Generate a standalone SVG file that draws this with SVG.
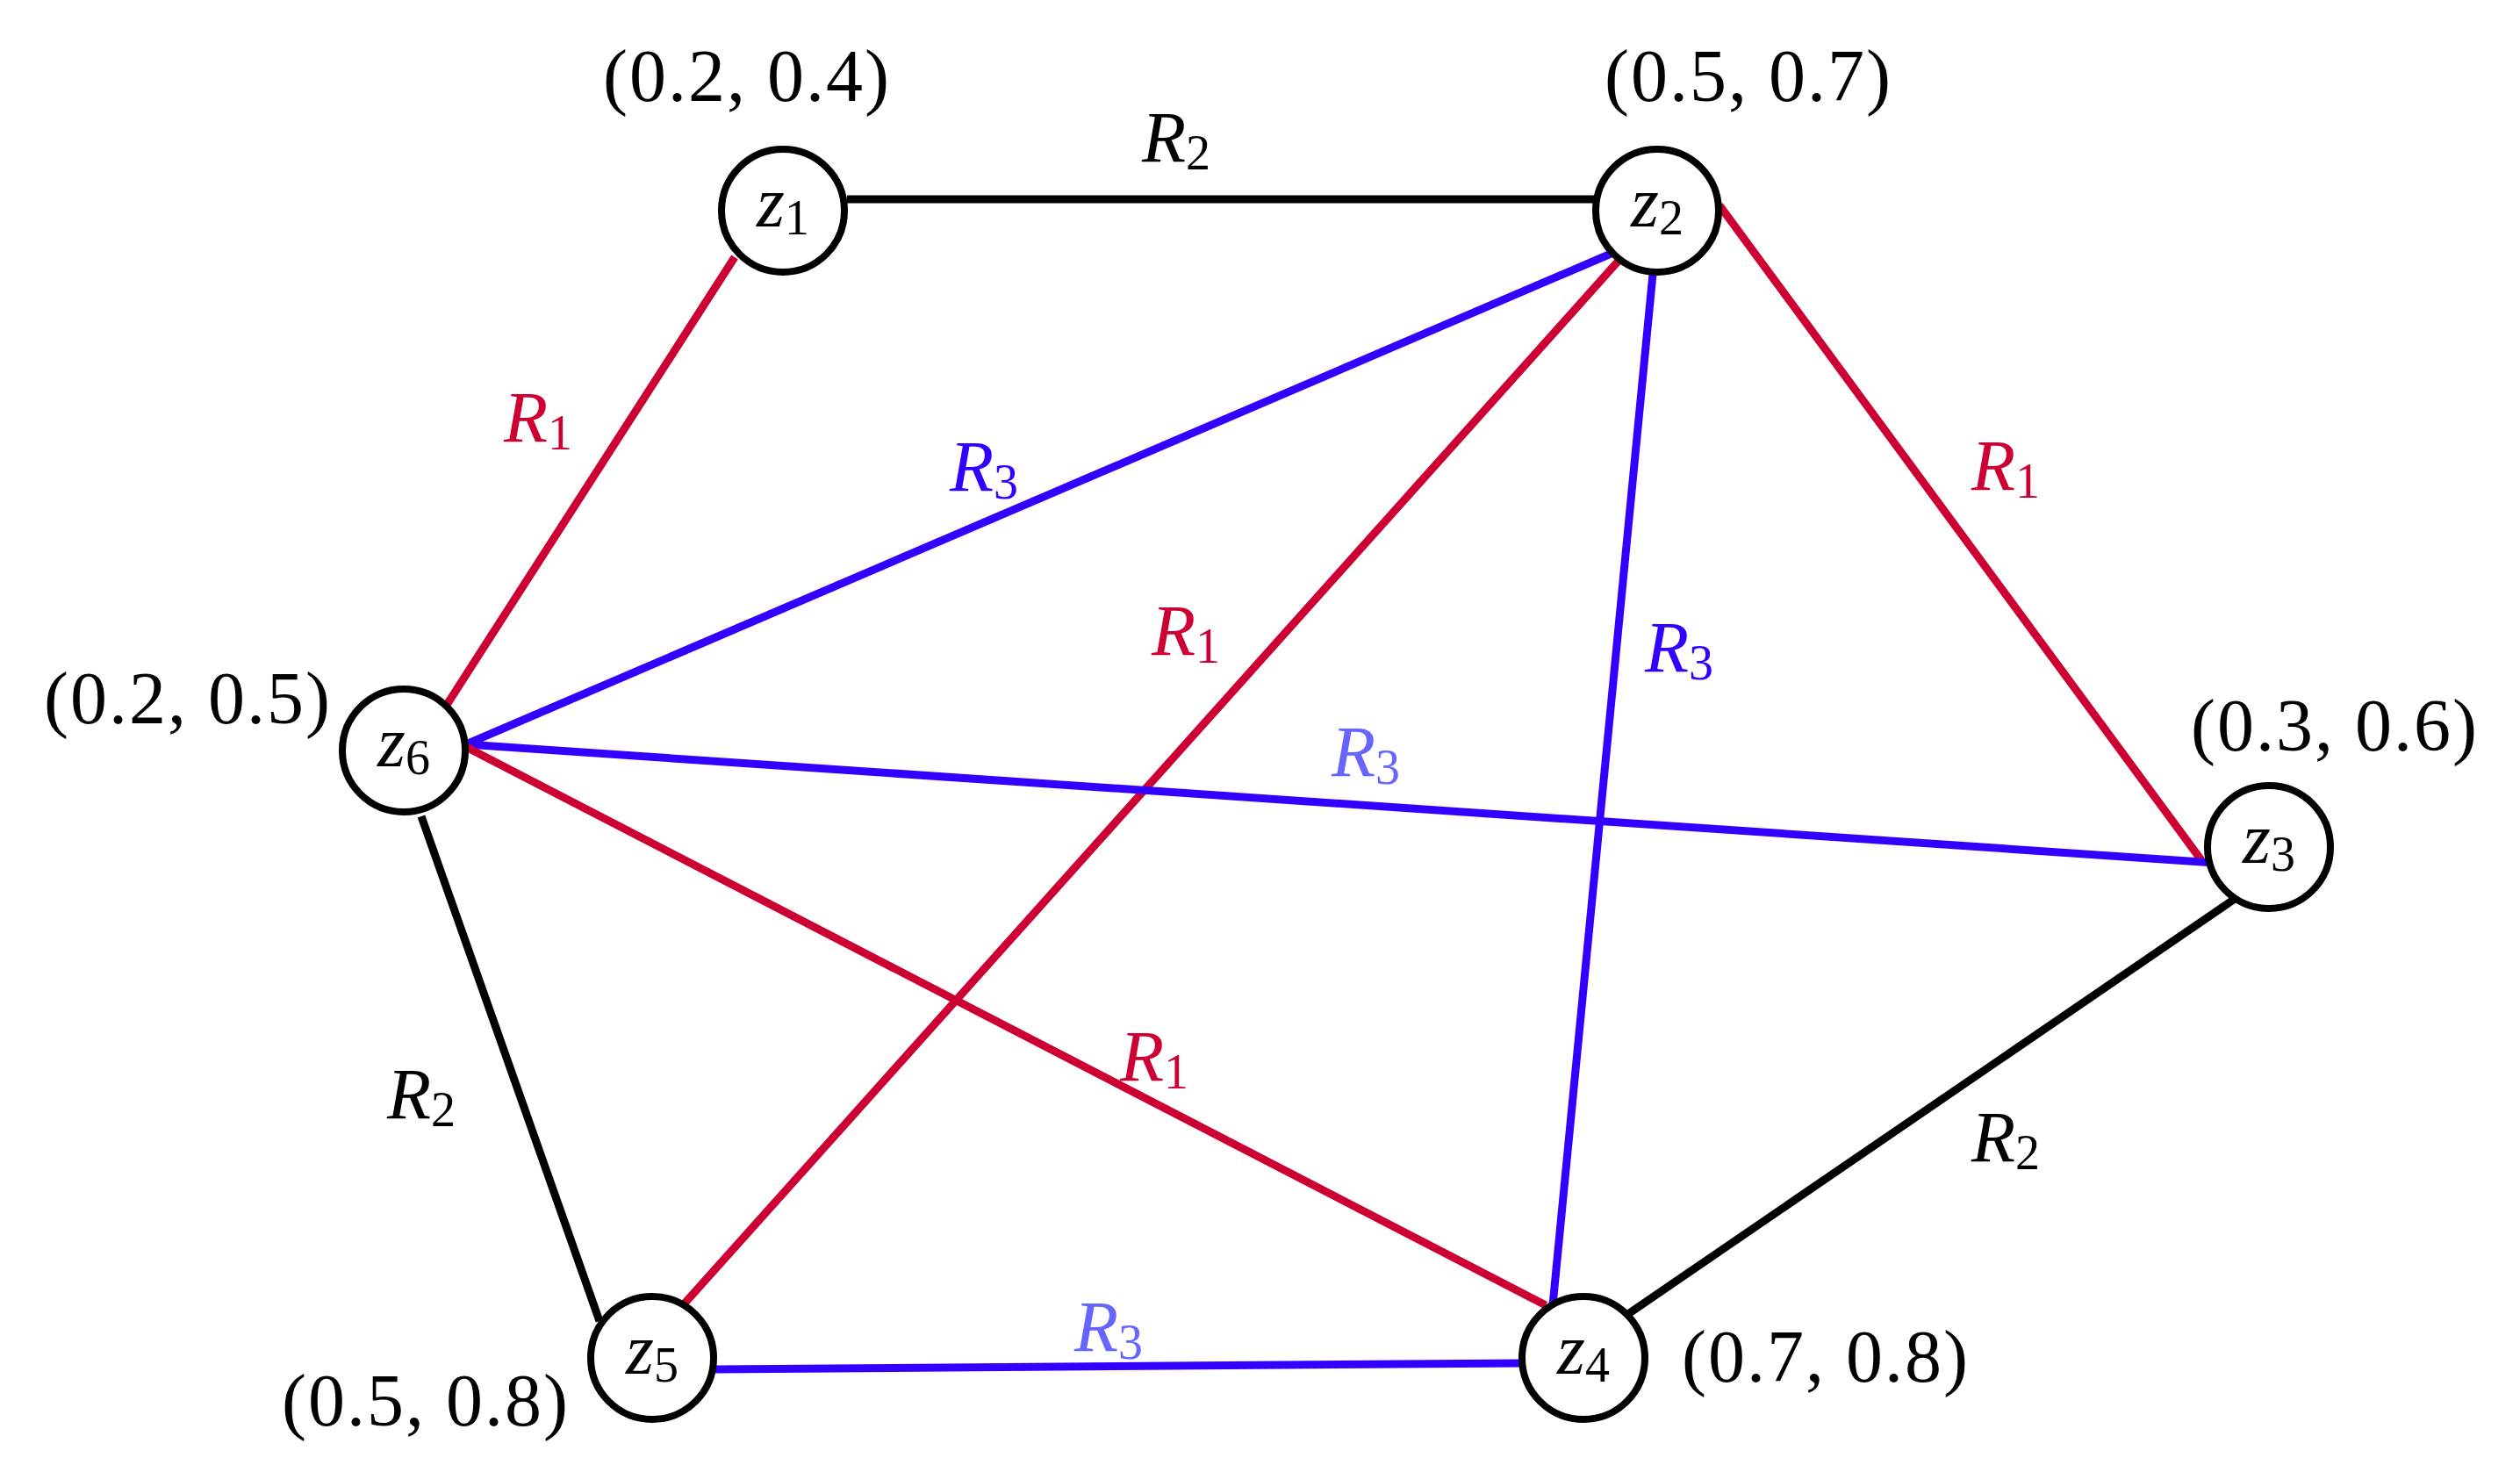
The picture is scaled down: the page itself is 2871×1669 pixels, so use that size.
<svg xmlns="http://www.w3.org/2000/svg" width="2871" height="1669" viewBox="0 0 2871 1669">
<style>
text{font-family:"Liberation Serif","DejaVu Serif",serif;text-anchor:middle;dominant-baseline:central;fill:#000}
.c{font-size:84px;letter-spacing:2px}
.l{font-size:82px;font-style:italic}
.s{font-size:56px;font-style:normal}
.n{fill:#fff;stroke:#000;stroke-width:8}
.k{stroke:#000;stroke-width:9}
.r{stroke:#cc0033;stroke-width:9}
.b{stroke:#3300ff;stroke-width:9}
</style>
<rect width="2871" height="1669" fill="#fff"/>
<g id="connectors">
<line class="k" x1="965" y1="227" x2="1822" y2="227"/>
<line class="r" x1="837" y1="293" x2="507" y2="806"/>
<line class="r" x1="1959" y1="234" x2="2508" y2="980"/>
<line class="b" x1="1840" y1="287" x2="531" y2="848"/>
<line class="r" x1="1844" y1="297" x2="778" y2="1487"/>
<line class="b" x1="1884" y1="302" x2="1769" y2="1487"/>
<line class="b" x1="531" y1="848" x2="2523" y2="983"/>
<line class="r" x1="531" y1="851" x2="1761" y2="1487"/>
<line class="k" x1="480" y1="930" x2="683" y2="1505"/>
<line class="k" x1="2549" y1="1022" x2="1849" y2="1501"/>
<line class="b" x1="815" y1="1560" x2="1734" y2="1553"/>
<text class="l" x="1340" y="156">R<tspan class="s" dy="18">2</tspan></text>
<text class="l" x="613" y="475" style="fill:#cc0033">R<tspan class="s" dy="18">1</tspan></text>
<text class="l" x="1121" y="531" style="fill:#3300ff">R<tspan class="s" dy="18">3</tspan></text>
<text class="l" x="1351" y="718" style="fill:#cc0033">R<tspan class="s" dy="18">1</tspan></text>
<text class="l" x="1913" y="737" style="fill:#3300ff">R<tspan class="s" dy="18">3</tspan></text>
<text class="l" x="2285" y="530" style="fill:#cc0033">R<tspan class="s" dy="18">1</tspan></text>
<text class="l" x="1556" y="856" style="fill:#6666ff">R<tspan class="s" dy="18">3</tspan></text>
<text class="l" x="1315" y="1203" style="fill:#cc0033">R<tspan class="s" dy="18">1</tspan></text>
<text class="l" x="480" y="1246">R<tspan class="s" dy="18">2</tspan></text>
<text class="l" x="2285" y="1295">R<tspan class="s" dy="18">2</tspan></text>
<text class="l" x="1263" y="1511" style="fill:#6666ff">R<tspan class="s" dy="18">3</tspan></text>
</g>
<g id="z1"><circle class="n" cx="892" cy="240" r="70"/><text class="l" x="892" y="230">z<tspan class="s" dy="18">1</tspan></text><text class="c" x="851" y="86">(0.2, 0.4)</text></g>
<g id="z2"><circle class="n" cx="1888" cy="240" r="70"/><text class="l" x="1888" y="230">z<tspan class="s" dy="18">2</tspan></text><text class="c" x="1992" y="86">(0.5, 0.7)</text></g>
<g id="z3"><circle class="n" cx="2585" cy="965" r="70"/><text class="l" x="2585" y="955">z<tspan class="s" dy="18">3</tspan></text><text class="c" x="2660" y="826">(0.3, 0.6)</text></g>
<g id="z4"><circle class="n" cx="1804" cy="1547" r="70"/><text class="l" x="1804" y="1537">z<tspan class="s" dy="18">4</tspan></text><text class="c" x="2080" y="1545">(0.7, 0.8)</text></g>
<g id="z5"><circle class="n" cx="743" cy="1547" r="70"/><text class="l" x="743" y="1537">z<tspan class="s" dy="18">5</tspan></text><text class="c" x="485" y="1595">(0.5, 0.8)</text></g>
<g id="z6"><circle class="n" cx="460" cy="855" r="70"/><text class="l" x="460" y="845">z<tspan class="s" dy="18">6</tspan></text><text class="c" x="214" y="795">(0.2, 0.5)</text></g>
</svg>
